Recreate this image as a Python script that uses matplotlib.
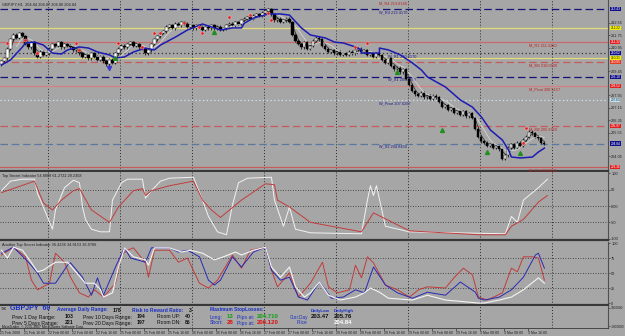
import matplotlib
matplotlib.use("Agg")
import matplotlib.pyplot as plt
import numpy as np
import pandas as pd

# GBPJPY H1, first bar 21 Feb 2008 08:00, one bar per hour
closes = [
    210.1, 210.3, 210.9, 211.5, 211.8, 211.6, 211.9, 211.7,
    211.2, 211.0, 211.3, 210.6, 210.4, 210.7, 210.5, 210.6,
    210.9, 211.2, 211.1, 211.3, 211.0, 211.2, 211.1, 211.0,
    210.8, 210.9, 210.6, 210.4, 210.5, 210.3, 210.6, 210.4,
    210.2, 210.4, 210.1, 209.9, 210.2, 210.0, 210.6, 210.9,
    211.1, 211.0, 211.2, 211.3, 211.1, 211.2, 211.0, 210.9,
    210.6, 210.8, 211.2, 211.5, 211.7, 211.9, 212.0, 212.3,
    212.4, 212.2, 212.5, 212.4, 212.6, 212.5, 212.3, 212.4,
    212.2, 212.4, 212.3, 212.1, 212.3, 212.2, 212.4, 212.2,
    212.3, 212.1, 212.2, 212.4, 212.5, 212.4, 212.6, 212.5,
    212.7, 212.8, 212.9, 212.8, 213.0, 213.1, 213.0, 213.2,
    213.3, 213.4, 213.1, 212.7, 212.8, 212.6, 212.7, 212.8,
    212.6, 211.8, 211.4, 211.2, 211.0, 211.3, 210.9, 211.1,
    211.4, 211.6, 211.5, 211.1, 210.9, 210.7, 210.8, 210.6,
    210.7, 210.5, 210.6, 210.5, 210.7, 210.6, 210.8, 210.9,
    210.7, 210.8, 210.5, 210.6, 210.4, 210.6, 210.5, 210.2,
    210.0, 210.3, 209.8, 209.6, 209.7, 209.4, 209.6, 209.0,
    208.6, 208.2, 208.0, 207.9, 208.1, 207.8, 207.9, 207.7,
    207.9, 207.8, 207.5, 207.2, 207.3, 207.0, 207.1, 206.8,
    206.9, 206.7, 206.9, 206.6, 206.8, 206.5, 205.8, 205.3,
    205.0, 204.9, 204.7, 204.8, 204.6, 204.7, 204.5, 203.9,
    204.1, 204.6, 204.8, 204.6, 204.9, 204.7, 205.1, 205.3,
    205.6, 205.5, 205.3, 205.2, 204.9, 204.84,
]
first_open = 209.9

ma_bar = [0, 3, 7, 8, 11, 14, 17, 20, 22, 26, 29, 32, 36, 38, 41, 44, 48, 51, 53, 58,
          62, 67, 70, 73, 77, 80, 81, 84, 89, 93, 96, 100, 103, 108, 111, 114, 118, 120,
          120, 126, 126, 129, 133, 137, 140, 142, 148, 153, 157, 160, 163, 167, 169, 170,
          173, 177, 179, 181]
ma_price = [209.86, 210.18, 211.01, 211.26, 211.32, 211.13, 210.62, 210.56, 210.82, 211.01,
            210.94, 210.69, 210.50, 210.31, 210.37, 210.69, 210.94, 210.82, 211.13, 211.64,
            212.09, 212.47, 212.28, 212.09, 212.22, 212.22, 212.53, 212.85, 213.11, 213.11,
            213.04, 212.22, 211.77, 211.58, 211.32, 211.26, 211.01, 210.82, 210.62, 210.62,
            210.94, 210.82, 210.50, 209.99, 209.54, 209.10, 208.46, 207.63, 207.18, 206.55,
            205.72, 205.08, 204.45, 204.00, 203.94, 204.00, 204.32, 204.57]

frac_bar = [2, 8, 12, 25, 26, 39, 47, 51, 53, 61, 66, 67, 76, 83, 89, 90, 118, 122, 175, 174]
frac_price = [211.26, 211.45, 210.62, 211.26, 210.82, 211.26, 211.01, 211.90, 211.90, 212.53,
              212.28, 211.90, 212.92, 213.04, 213.17, 212.73, 211.01, 211.26, 205.85, 204.89]
arrow_bar = [38, 71, 132, 147, 162, 173]
arrow_price = [210.31, 211.96, 209.41, 205.72, 204.32, 204.25]

# pivot levels: price, colour, style, label, label bar, label colour
levels = [
    (213.43, "#12127a", (0, (6, 3)), "W_R4 213.4170", 126, "#1a1a8a"),
    (212.22, "#e4dc78", "-", "", 0, ""),
    (211.32, "#c86a6a", "-", "M_R1 211.3220", 176, "#c02020"),
    (210.62, "#303030", (0, (1, 2)), "W_R1 210.6170", 129, "#1a1a8a"),
    (210.31, "#e4dc78", "-", "", 0, ""),
    (210.05, "#c85a5a", (0, (6, 3)), "M_M3 210.0530", 176, "#c02020"),
    (209.10, "#12127a", (0, (6, 3)), "W_S1 209.1070", 129, "#1a1a8a"),
    (208.52, "#d88080", "-", "M_Pivot 208.5157", 176, "#c02020"),
    (207.63, "#cfe6f2", (0, (1, 2)), "W_Pivot 207.6297", 126, "#1a1a8a"),
    (205.97, "#c85a5a", (0, (6, 3)), "M_M2 205.9720", 176, "#c02020"),
    (204.84, "#5a78a0", (0, (6, 3)), "W_S2 204.8450", 126, "#1a1a8a"),
    (203.36, "#c85a5a", "-", "M_S1 203.3610", 176, "#c02020"),
]
box_colors = ["#10108a", "#f4f000", "#e02020", "#10108a", "#f4f000", "#e83a20",
              "#10108a", "#e02020", "#bfe2f6", "#e02020", "#10108a", "#e02020"]
# scale labels left visible between the level boxes
price_ticks = [212.55, 211.75, 210.95, 209.45, 207.95, 207.15, 206.35, 205.55, 204.05]

ind1_white_bar = [0, 3, 7, 11, 12, 13, 17, 18, 21, 24, 26, 27, 28, 30, 33, 36, 37, 40, 42,
                  47, 48, 50, 53, 56, 64, 67, 69, 72, 75, 77, 79, 82, 90, 91, 94, 96, 98,
                  103, 120, 122, 123, 124, 125, 128, 136, 168, 170, 172, 174, 179, 182]
ind1_white = [47, 76, 82, 82, 38, 18, -71, -12, 56, 79, 71, -3, -41, -71, -79, -79, 18, 71,
              82, 82, 24, 47, 76, 85, 88, 18, -32, -79, -88, 3, 71, 85, 88, 18, -62, -3, -71,
              -82, -85, 18, 62, 32, 62, -62, -79, -85, -32, -50, 18, 56, 82]
ind1_red_bar = [0, 11, 14, 17, 20, 24, 26, 30, 36, 39, 44, 47, 48, 50, 56, 64, 67, 70, 73,
                80, 88, 91, 92, 96, 103, 120, 124, 136, 159, 168, 170, 174, 179, 182]
ind1_red = [41, 76, 9, -12, 18, 47, 53, -12, -50, -3, 47, 53, 32, 47, 62, 76, 18, -12, -35,
            18, 68, 65, 18, -3, -50, -79, -21, -76, -88, -88, -62, -41, 12, 32]

ind2_white_bar = [0, 2, 4, 7, 10, 12, 14, 18, 22, 28, 31, 33, 34, 37, 39, 41, 44, 48, 49, 51,
                  56, 60, 63, 67, 71, 74, 78, 80, 84, 88, 90, 93, 96, 98, 101, 103, 106, 109,
                  113, 118, 121, 123, 126, 129, 137, 142, 148, 159, 161, 166, 170, 174, 179, 181]
ind2_white = [88, 75, 93, 88, 67, 52, 55, 68, 68, 33, 33, 22, 10, 17, 60, 92, 77, 72, 63, 92,
              92, 85, 88, 83, 72, 77, 85, 80, 88, 93, 60, 43, 60, 27, 10, 17, 35, 13, 5, 10,
              17, 25, 18, 8, 5, 13, 5, 0, 0, 5, 10, 22, 42, 33]
ind2_blue_bar = [0, 4, 9, 12, 14, 18, 22, 23, 27, 30, 32, 34, 38, 41, 43, 48, 50, 56, 59, 62,
                 66, 69, 71, 73, 77, 80, 84, 88, 90, 93, 96, 99, 102, 106, 108, 110, 114, 118,
                 121, 124, 128, 132, 137, 142, 148, 153, 158, 159, 161, 166, 170, 174, 178,
                 179, 181]
ind2_blue = [83, 93, 68, 50, 33, 33, 63, 67, 43, 13, 42, 13, 60, 92, 75, 68, 92, 92, 85, 88,
             77, 38, 30, 38, 77, 60, 85, 93, 55, 38, 43, 10, 5, 35, 22, 8, 10, 22, 17, 60,
             30, 17, 8, 18, 13, 35, 18, 8, 5, 10, 22, 43, 80, 83, 58]
ind2_red_bar = [0, 4, 8, 10, 12, 16, 18, 21, 23, 26, 29, 31, 34, 38, 40, 42, 44, 48, 49, 51,
                56, 59, 62, 66, 69, 72, 77, 80, 83, 88, 90, 92, 96, 99, 103, 107, 109, 112,
                116, 118, 120, 122, 124, 128, 132, 136, 139, 142, 148, 151, 154, 157, 159,
                162, 167, 170, 172, 174, 177, 179, 181]
ind2_red = [80, 93, 77, 38, 22, 33, 83, 68, 43, 17, 10, 22, 10, 33, 80, 88, 92, 67, 43, 88,
            88, 68, 75, 33, 25, 38, 80, 58, 88, 93, 55, 27, 50, 10, 33, 68, 27, 17, 22, 63,
            42, 77, 67, 30, 22, 10, 22, 27, 25, 43, 58, 47, 10, 5, 17, 58, 52, 77, 77, 75, 38]

day_bars = [16, 40, 64, 88, 112, 136, 160, 184]
date_labels = ["21 Feb 2008", "21 Feb 16:00", "22 Feb 00:00", "22 Feb 08:00", "22 Feb 16:00",
               "25 Feb 00:00", "25 Feb 08:00", "25 Feb 16:00", "26 Feb 00:00", "26 Feb 08:00",
               "26 Feb 16:00", "27 Feb 00:00", "27 Feb 08:00", "27 Feb 16:00", "28 Feb 00:00",
               "28 Feb 08:00", "28 Feb 16:00", "29 Feb 00:00", "29 Feb 08:00", "29 Feb 16:00",
               "3 Mar 00:00", "3 Mar 08:00", "3 Mar 16:00"]

BG = "#a6a6a6"
W, H = 625, 336
SMALL = 2.8
plt.rcParams["font.family"] = ["Liberation Sans", "DejaVu Sans"]

fig = plt.figure(figsize=(W / 100, H / 100), dpi=100, facecolor=BG)


def px_axes(top, bottom):
    ax = fig.add_axes([0, 1 - bottom / H, 608 / W, (bottom - top) / H], facecolor=BG)
    ax.set_xlim(-0.5, 202.2)
    for side in ("left", "top"):
        ax.spines[side].set_visible(False)
    ax.spines["right"].set_color("#505050")
    ax.spines["right"].set_linewidth(0.8)
    ax.spines["bottom"].set_color("#383838")
    ax.spines["bottom"].set_linewidth(1.6)
    ax.yaxis.tick_right()
    ax.tick_params(axis="y", labelsize=SMALL, length=1.5, width=0.4, pad=0.8, colors="#202020")
    ax.tick_params(axis="x", bottom=False, labelbottom=False)
    for b in day_bars:
        ax.axvline(b - 0.5, color="#2a2a2a", lw=0.7, ls=(0, (1, 2)), zorder=1)
    return ax


ax_main = px_axes(0, 171)
ax_ind1 = px_axes(172, 240)
ax_ind2 = px_axes(242, 305)
ax_info = px_axes(306, 328)

# ---- main price panel
ax_main.set_ylim(203.11, 214.0)
ax_main.set_yticks(price_ticks)
ax_main.set_yticklabels([f"{p:.2f}" for p in price_ticks])
for (price, col, ls, name, nbar, tcol), bcol in zip(levels, box_colors):
    ax_main.axhline(price, color=col, lw=0.9, ls=ls, zorder=2)
    if name:
        ax_main.text(nbar, price - 0.06, name, color=tcol, fontsize=SMALL, va="top", zorder=3)
    tc = "#202020" if bcol in ("#f4f000", "#bfe2f6") else "white"
    ax_main.text(1.004, price, f"{price:.2f}", transform=ax_main.get_yaxis_transform(),
                 fontsize=2.3, color=tc, va="center", ha="left", zorder=6, clip_on=False,
                 bbox=dict(boxstyle="square,pad=0.12", fc=bcol, ec="none"))
ax_main.text(126, 213.81, "M_R4 213.8160", color="#c02020", fontsize=SMALL, va="center")

bars = np.arange(len(closes))
opens = [first_open] + closes[:-1]
wick = 0.09
for b, o, c in zip(bars, opens, closes):
    lo, hi = min(o, c), max(o, c)
    ax_main.vlines(b, lo - wick, hi + wick, color="black", lw=0.5, zorder=4)
    fc = "white" if c >= o else "black"
    ax_main.bar(b, max(hi - lo, 0.02), bottom=lo, width=0.7, color=fc,
                edgecolor="black", lw=0.3, zorder=5)

s = pd.Series(closes)
ax_main.plot(bars, s.rolling(3).mean(), color="#2a2a2a", lw=0.5, zorder=4)
ax_main.plot(bars, s.rolling(6).mean(), color="#dcdcdc", lw=0.5, zorder=4)
ax_main.plot(ma_bar, ma_price, color="#1c1cb4", lw=1.1, zorder=6)
ax_main.plot(frac_bar, frac_price, ls="none", marker="o", ms=2.3, mfc="#e02020",
             mec="#ffc0c0", mew=0.3, zorder=7)
ax_main.plot(arrow_bar, arrow_price, ls="none", marker="^", ms=2.8, color="#1f8f1f", zorder=7)
ax_main.plot([36], [209.67], ls="none", marker="v", ms=3, color="#3a3ad0", zorder=7)
ax_main.text(0.004, 0.985, "GBPJPY,H1  204.84 204.87 204.80 204.84", transform=ax_main.transAxes,
             fontsize=SMALL, color="#202020", va="top")

# ---- indicator 1
ax_ind1.set_ylim(-104, 104)
for v in (50, 0, -50):
    ax_ind1.axhline(v, color="#2a2a2a", lw=0.6, ls=(0, (1, 2)), zorder=1)
ax_ind1.plot(ind1_white_bar, ind1_white, color="#f2f2f2", lw=0.7, zorder=3)
ax_ind1.plot(ind1_red_bar, ind1_red, color="#c23c3c", lw=0.7, zorder=3)
ax_ind1.set_yticks([100, 50, 0, -50, -100])
ax_ind1.set_yticklabels(["100", "50", "0.00", "-50", "-100"])
ax_ind1.text(0.004, 0.97, "Top Secret Indicator 54.8889 61.2722 29.2308",
             transform=ax_ind1.transAxes, fontsize=SMALL, color="#202020", va="top")

# ---- indicator 2
ax_ind2.set_ylim(-3.3, 101.7)
for v in (75, 50, 25):
    ax_ind2.axhline(v, color="#2a2a2a", lw=0.6, ls=(0, (1, 2)), zorder=1)
ax_ind2.plot(ind2_red_bar, ind2_red, color="#c23c3c", lw=0.7, zorder=3)
ax_ind2.plot(ind2_blue_bar, ind2_blue, color="#2a2ab4", lw=0.7, zorder=3)
ax_ind2.plot(ind2_white_bar, ind2_white, color="#f4f4f4", lw=0.8, zorder=4)
ax_ind2.set_yticks([100, 75, 50, 25, 0])
ax_ind2.set_yticklabels(["100", "75", "50", "25", "0"])
ax_ind2.text(0.004, 0.985, "Another Top Secret Indicator 36.4236 34.8153 36.9786",
             transform=ax_ind2.transAxes, fontsize=SMALL, color="#202020", va="top")

# ---- info panel and date axis
ax_info.set_ylim(-1.2e6, 1.2e6)
ax_info.set_yticks([1e6, -1e6])
ax_info.set_yticklabels(["1000000", "-1000000"])
ax_info.tick_params(axis="y", labelsize=2.3, pad=0.5)
ax_info.set_xticks(np.arange(len(date_labels)) * 8 - 0.5)
ax_info.set_xticklabels(date_labels)
ax_info.tick_params(axis="x", bottom=True, labelbottom=True, labelsize=SMALL - 0.3,
                    length=2, width=0.4, pad=0.3, colors="#202020")
for lab in ax_info.get_xticklabels():
    lab.set_ha("left")
ax_info.spines["bottom"].set_linewidth(0.6)

BLUE = "#1a2fc4"
FS = 3.7
HEAD = 3.5


def ftxt(x, y, txt, color="#101010", size=FS, weight="normal"):
    fig.text(x / W, 1 - y / H, txt, color=color, fontsize=size, va="center",
             ha="left", fontweight=weight)


ftxt(1, 309, "T3K", size=2.4)
ftxt(10, 309, "GBPJPY  60", BLUE, 5, "bold")
ftxt(57, 310, "Average Daily Range:", BLUE, HEAD, "bold")
ftxt(113, 310, "178", size=HEAD + 0.3, weight="bold")
ftxt(132, 310, "Risk to Reward Ratio:", BLUE, HEAD, "bold")
ftxt(189, 310, "3", size=HEAD + 0.3, weight="bold")
ftxt(210, 310, "Maximum StopLosses:", BLUE, HEAD, "bold")
ftxt(12, 317, "Prev 1 Day Range:")
ftxt(65, 317, "103", weight="bold")
ftxt(83, 317, "Prev 10 Days Range:")
ftxt(137, 317, "194", weight="bold")
ftxt(157, 317, "Room UP:")
ftxt(185, 317, "40", weight="bold")
ftxt(210, 317, "Long:", BLUE)
ftxt(227, 317, "13", "#10a010", FS + 0.6, "bold")
ftxt(237, 317, "Pips at:", BLUE)
ftxt(257, 317, "204.710", "#10a010", FS + 0.6, "bold")
ftxt(290, 317, "Curr.Day", BLUE, FS - 0.4)
ftxt(12, 323, "Prev 5 Days Range:")
ftxt(65, 323, "221", weight="bold")
ftxt(83, 323, "Prev 20 Days Range:")
ftxt(137, 323, "197", weight="bold")
ftxt(157, 323, "Room DN:")
ftxt(185, 323, "86", weight="bold")
ftxt(210, 323, "Short:", BLUE)
ftxt(227, 323, "28", "#e01010", FS + 0.6, "bold")
ftxt(237, 323, "Pips at:", BLUE)
ftxt(257, 323, "206.120", "#e01010", FS + 0.6, "bold")
ftxt(297, 323, "Price", BLUE, FS - 0.4)
ftxt(2, 327, "MetaTrader, \u00a9 2005-2007 MetaQuotes Software Corp.", size=2.4)
ftxt(311, 311, "DailyLow", BLUE, FS - 0.5, "bold")
ftxt(334, 311, "DailyHigh", BLUE, FS - 0.5, "bold")
ftxt(311, 317, "203.47", size=FS + 0.6, weight="bold")
ftxt(334, 317, "205.76", size=FS + 0.6, weight="bold")
ftxt(334, 323, "204.84", "white", FS + 0.6, "bold")

fig.savefig("out.png", dpi=100, facecolor=BG)
